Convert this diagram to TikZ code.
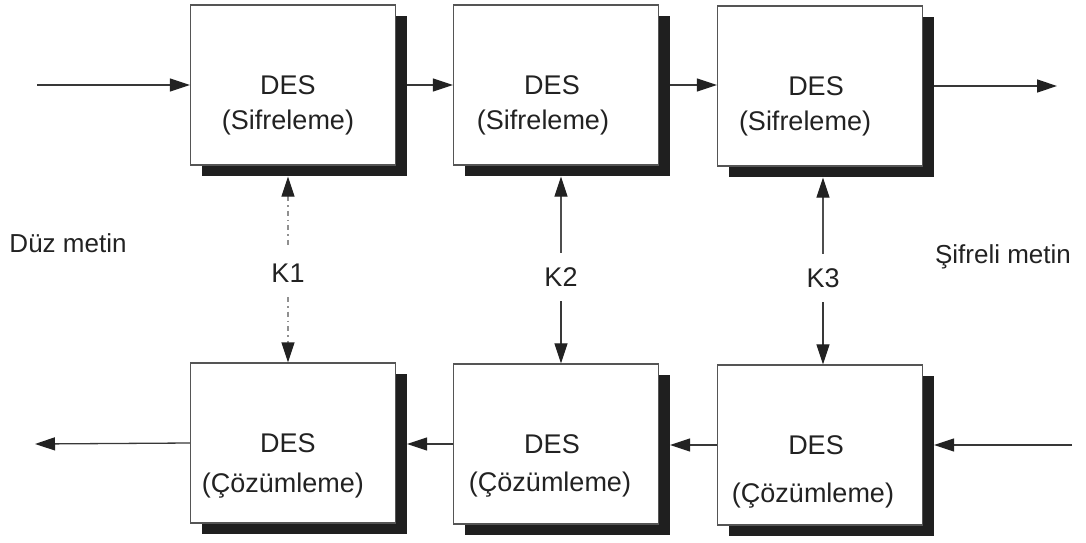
\documentclass[tikz,border=0pt]{standalone}
\usepackage{fontspec}
\setmainfont{Liberation Sans}
\usetikzlibrary{arrows.meta,shadows,calc}
\definecolor{ink}{HTML}{222222}
\definecolor{edge}{HTML}{555555}
\begin{document}
\begin{tikzpicture}[x=1pt,y=-1pt,
  flowtip/.tip={Triangle[length=20pt,width=13pt,color=ink]},
  desbox/.style={draw=edge, line width=1.3pt, fill=white, minimum width=205pt,
    minimum height=160pt, inner sep=0pt,
    drop shadow={shadow xshift=11pt, shadow yshift=-11pt, fill=black!88, opacity=1}},
  title/.style={font=\fontsize{27}{32}\selectfont, text=ink, inner sep=0pt},
  keylabel/.style={font=\fontsize{27}{32}\selectfont, text=ink, inner sep=0pt, minimum height=48pt},
  side/.style={font=\fontsize{26}{31}\selectfont, text=ink, inner sep=0pt},
  flow/.style={draw=ink!90, line width=1.3pt, -flowtip},
  keyflow/.style={draw=ink!80, line width=1.2pt, flowtip-},
  dotted line/.style={draw=ink!50, dash pattern=on 5pt off 4pt on 1.5pt off 4pt}
]
\useasboundingbox (0,0) rectangle (1086,543);

% encryption row
\node[desbox] (t1) at (293,85) {};
\node[desbox] (t2) at (556,85) {};
\node[desbox] (t3) at (820,86) {};
% decryption row
\node[desbox] (b1) at (293,443) {};
\node[desbox] (b2) at (556,444) {};
\node[desbox] (b3) at (820,445) {};

% box texts
\node[title] at ([xshift=-5pt]t1.center) {DES};
\node[title] at ([xshift=-5pt,yshift=-38pt]t1.center) {(Sifreleme)};
\node[title] at ([xshift=-4pt]t2.center) {DES};
\node[title] at ([xshift=-13pt,yshift=-38pt]t2.center) {(Sifreleme)};
\node[title] at ([xshift=-4pt]t3.center) {DES};
\node[title] at ([xshift=-15pt,yshift=-38pt]t3.center) {(Sifreleme)};
\node[title] at ([xshift=-5pt]b1.center) {DES};
\node[title] at ([xshift=-10pt,yshift=-43pt]b1.center) {(Çözümleme)};
\node[title] at ([xshift=-4pt]b2.center) {DES};
\node[title] at ([xshift=-6pt,yshift=-41pt]b2.center) {(Çözümleme)};
\node[title] at ([xshift=-4pt]b3.center) {DES};
\node[title] at ([xshift=-7pt,yshift=-51pt]b3.center) {(Çözümleme)};

% side labels
\node[side] (plain) at (68,243) {Düz metin};
\node[side] (cipher) at (1003,257) {Şifreli metin};

% free ends of the outer arrows
\coordinate (inT) at (37,85);
\coordinate (outT) at (1057,86);
\coordinate (inB) at (1072,445);
\coordinate (outB) at (35,444);

% encryption chain
\draw[flow] (inT) -- (t1.west);
\draw[flow, shorten <=11pt] (t1.east) -- (t2.west);
\draw[flow, shorten <=11pt] (t2.east) -- (t3.west |- t2.east);
\draw[flow, shorten <=11pt] (t3.east) -- (outT);

% decryption chain
\draw[flow, shorten >=11pt] (inB) -- (b3.east);
\draw[flow, shorten >=11pt] (b3.west) -- (b2.east |- b3.west);
\draw[flow, shorten >=11pt] (b2.west) -- (b1.east |- b2.west);
\draw[flow] (b1.west) -- (outB);

% keys
\node[keylabel] (k1) at (288,273) {K1};
\node[keylabel] (k2) at (561,277) {K2};
\node[keylabel] (k3) at (823,278) {K3};

\draw[keyflow, dotted line, shorten <=11pt] (t1.south -| k1) -- (k1);
\draw[flow, dotted line] (k1) -- (b1.north -| k1);
\draw[keyflow, shorten <=11pt] (t2.south -| k2) -- (k2);
\draw[keyflow, shorten <=11pt] (t3.south -| k3) -- (k3);
\draw[flow, line width=1.2pt] (k2) -- (b2.north -| k2);
\draw[flow, line width=1.2pt] (k3) -- (b3.north -| k3);
\end{tikzpicture}
\end{document}
